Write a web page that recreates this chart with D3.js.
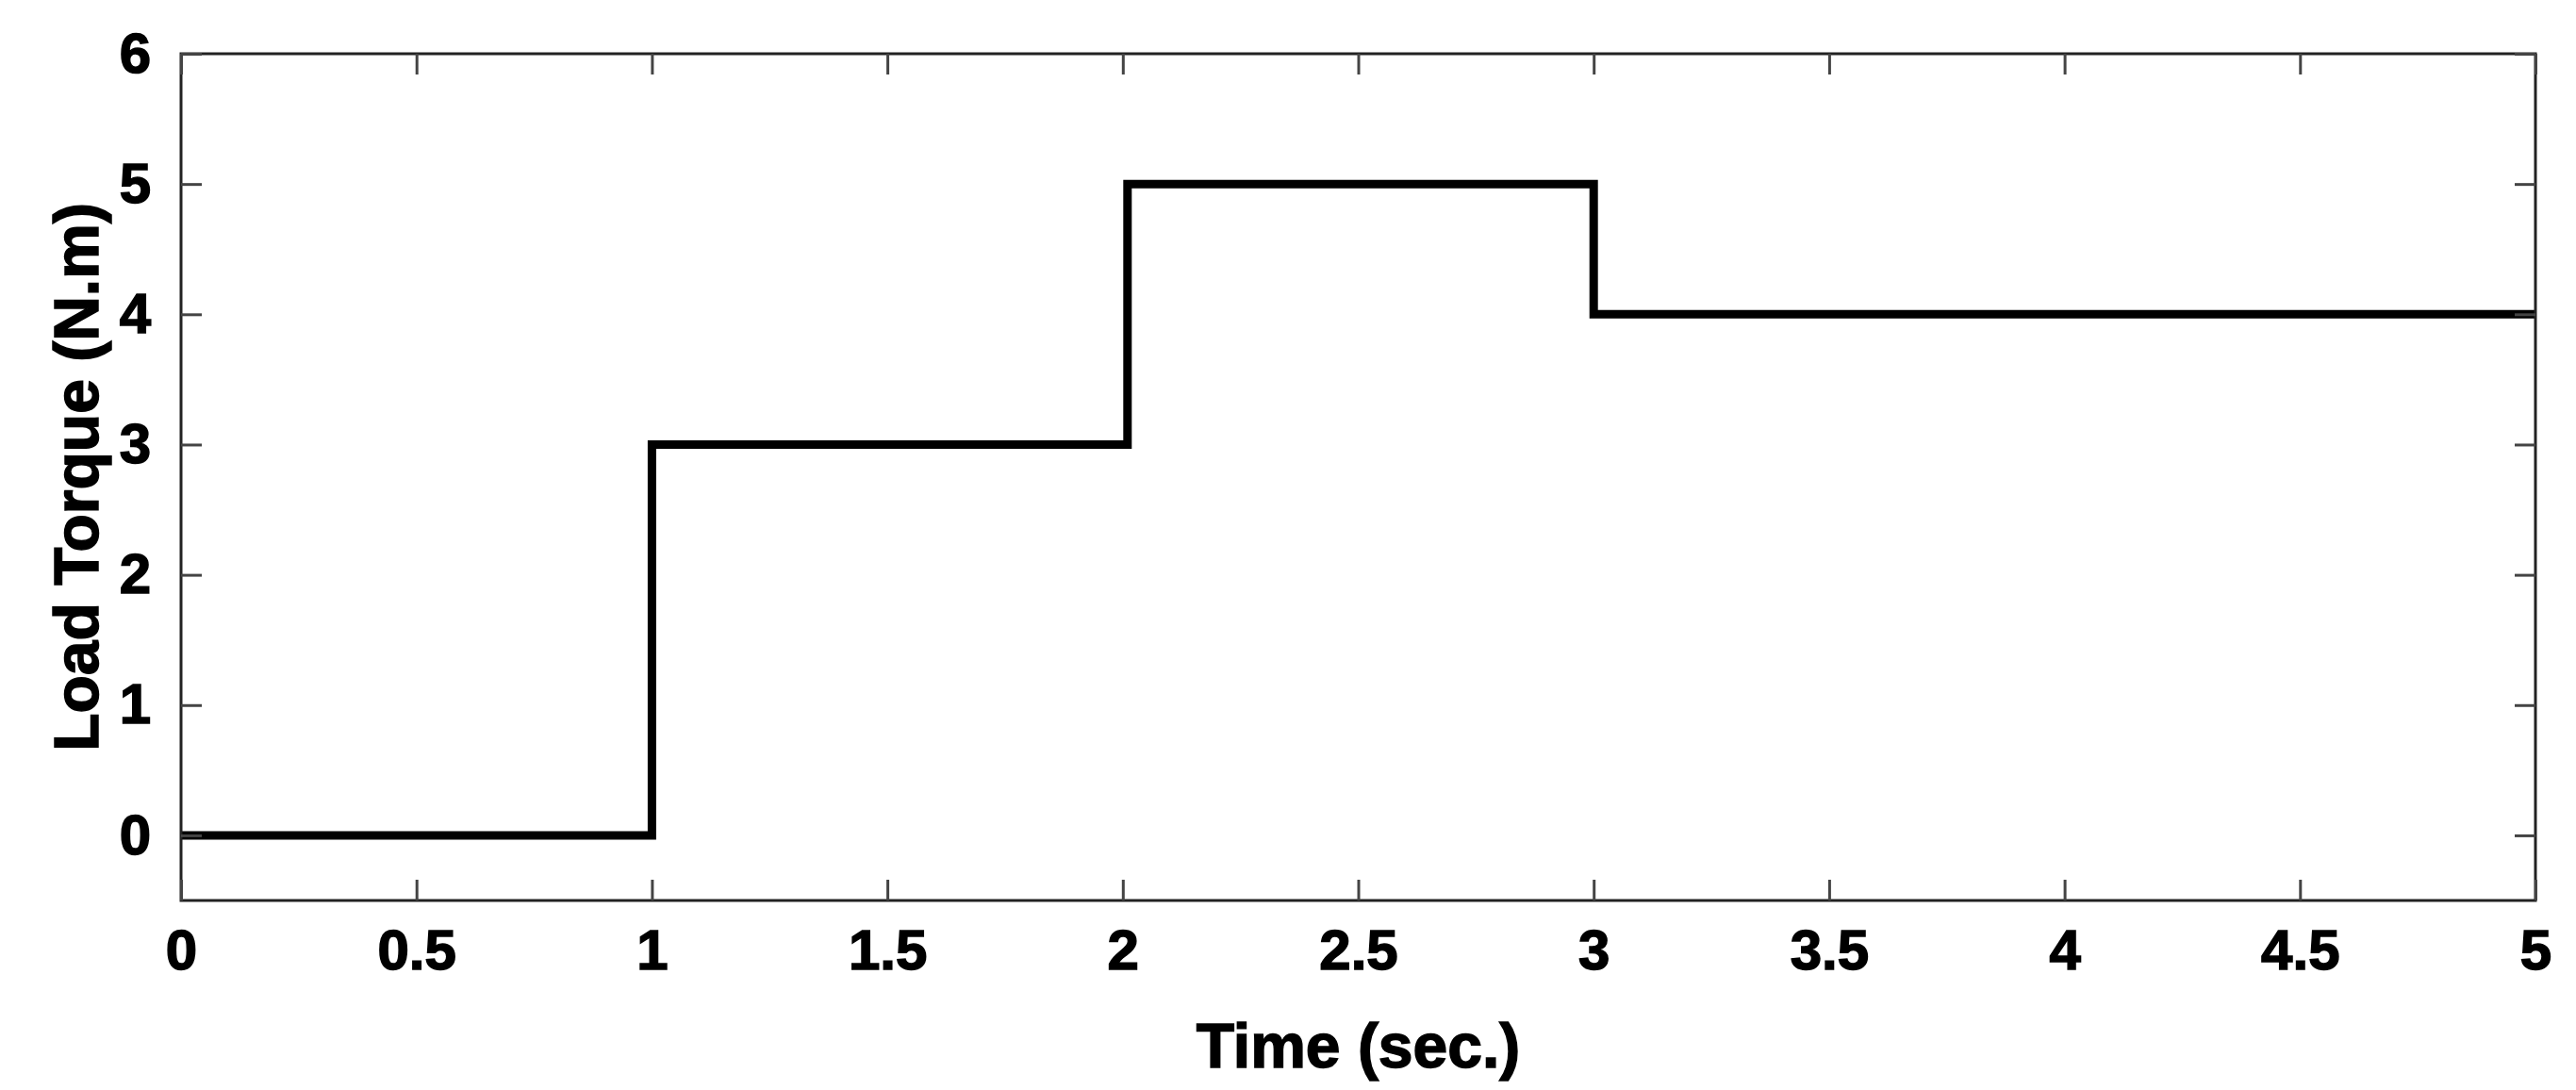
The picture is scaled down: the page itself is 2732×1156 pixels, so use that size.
<!DOCTYPE html>
<html>
<head>
<meta charset="utf-8">
<script src="https://cdn.jsdelivr.net/npm/d3@7"></script>
<style>
body { margin: 0; background: #fff; }
text { font-family: "Liberation Sans", Arial, sans-serif; font-weight: bold; }
</style>
</head>
<body>
<svg id="chart" width="2732" height="1156"></svg>
<script>
var stepTimes = [0, 1, 2.01, 3, 5];
var stepValues = [0, 3, 5, 4, 4];
var xTicks = [0, 0.5, 1, 1.5, 2, 2.5, 3, 3.5, 4, 4.5, 5];
var yTicks = [0, 1, 2, 3, 4, 5, 6];

var margin = {left: 192, right: 43, top: 57, bottom: 201};
var W = 2732, H = 1156;
var svg = d3.select("#chart");

var x = d3.scaleLinear().domain([0, 5]).range([margin.left, W - margin.right]);
var y = d3.scaleLinear().domain([-0.5, 6]).range([H - margin.bottom, margin.top]);

var pts = stepTimes.map(function(t, i) { return [t, stepValues[i]]; });

svg.append("path")
	.datum(pts)
	.attr("fill", "none")
	.attr("stroke", "#000")
	.attr("stroke-width", 9)
	.attr("d", d3.line().curve(d3.curveStepAfter)
		.x(function(d) { return x(d[0]); })
		.y(function(d) { return y(d[1]); }));

// frame
svg.append("rect")
	.attr("x", x(0)).attr("y", y(6))
	.attr("width", x(5) - x(0)).attr("height", y(-0.5) - y(6))
	.attr("fill", "none").attr("stroke", "#222").attr("stroke-width", 3);

var tl = 22;
function styleAxis(g) {
	g.select(".domain").remove();
	g.selectAll(".tick line").attr("stroke", "#444").attr("stroke-width", 3);
	g.selectAll(".tick text").attr("font-size", 60).attr("fill", "#000")
		.attr("stroke", "#000").attr("stroke-width", 1.5);
}
svg.append("g").attr("transform", "translate(0," + y(-0.5) + ")")
	.call(d3.axisBottom(x).tickValues(xTicks).tickSize(-tl).tickPadding(30).tickFormat(d3.format("")))
	.call(styleAxis);
svg.append("g").attr("transform", "translate(0," + y(6) + ")")
	.call(d3.axisTop(x).tickValues(xTicks).tickSize(-tl).tickFormat(""))
	.call(styleAxis);
svg.append("g").attr("transform", "translate(" + x(0) + ",0)")
	.call(d3.axisLeft(y).tickValues(yTicks).tickSize(-tl).tickPadding(32).tickFormat(d3.format("")))
	.call(styleAxis);
svg.append("g").attr("transform", "translate(" + x(5) + ",0)")
	.call(d3.axisRight(y).tickValues(yTicks).tickSize(-tl).tickFormat(""))
	.call(styleAxis);

svg.append("text")
	.attr("x", (x(0) + x(5)) / 2).attr("y", 1132)
	.attr("text-anchor", "middle").attr("font-size", 66)
	.attr("stroke", "#000").attr("stroke-width", 1.5)
	.text("Time (sec.)");
svg.append("text")
	.attr("transform", "translate(104," + y(2.75) + ") rotate(-90)")
	.attr("text-anchor", "middle").attr("font-size", 66)
	.attr("stroke", "#000").attr("stroke-width", 1.5)
	.text("Load Torque (N.m)");
</script>
</body>
</html>
